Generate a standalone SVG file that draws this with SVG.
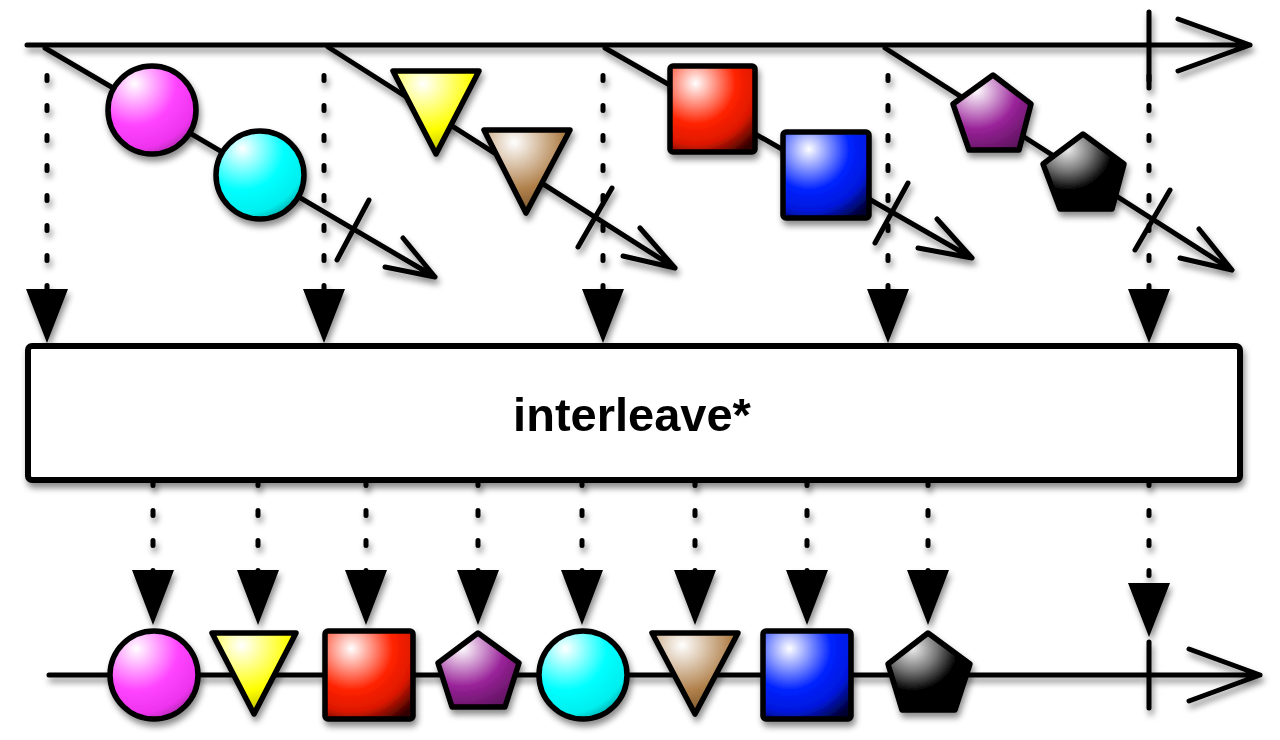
<svg xmlns="http://www.w3.org/2000/svg" width="1280" height="740" viewBox="0 0 1280 740">
<defs>
<filter id="sh" filterUnits="userSpaceOnUse" x="0" y="0" width="1280" height="740">
<feDropShadow dx="2" dy="5" stdDeviation="3" flood-color="#000" flood-opacity="0.45"/>
</filter>
<radialGradient id="gMag" cx="0.3" cy="0.2" r="0.95"><stop offset="0" stop-color="#ffffff"/><stop offset="0.5" stop-color="#ff44ff"/><stop offset="0.78" stop-color="#ee33ee"/><stop offset="1" stop-color="#882288"/></radialGradient>
<radialGradient id="gCyan" cx="0.3" cy="0.2" r="0.95"><stop offset="0" stop-color="#ffffff"/><stop offset="0.5" stop-color="#00ffff"/><stop offset="0.78" stop-color="#00eeee"/><stop offset="1" stop-color="#008080"/></radialGradient>
<radialGradient id="gYel" cx="0.35" cy="0.15" r="0.95"><stop offset="0" stop-color="#ffffff"/><stop offset="0.6" stop-color="#ffff00"/><stop offset="1" stop-color="#aaaa00"/></radialGradient>
<radialGradient id="gBrn" cx="0.35" cy="0.15" r="0.95"><stop offset="0" stop-color="#ffffff"/><stop offset="0.6" stop-color="#b0804a"/><stop offset="1" stop-color="#6a4a25"/></radialGradient>
<radialGradient id="gRed" cx="0.3" cy="0.2" r="0.95"><stop offset="0" stop-color="#ffffff"/><stop offset="0.5" stop-color="#ff2200"/><stop offset="0.75" stop-color="#dd1800"/><stop offset="1" stop-color="#330000"/></radialGradient>
<radialGradient id="gBlu" cx="0.3" cy="0.2" r="0.95"><stop offset="0" stop-color="#ffffff"/><stop offset="0.5" stop-color="#0022ff"/><stop offset="0.75" stop-color="#0018dd"/><stop offset="1" stop-color="#000033"/></radialGradient>
<radialGradient id="gPur" cx="0.3" cy="0.2" r="0.95"><stop offset="0" stop-color="#ffffff"/><stop offset="0.55" stop-color="#992299"/><stop offset="1" stop-color="#551155"/></radialGradient>
<radialGradient id="gBlk" cx="0.3" cy="0.2" r="0.85"><stop offset="0" stop-color="#eeeeee"/><stop offset="0.35" stop-color="#777777"/><stop offset="0.65" stop-color="#000000"/><stop offset="1" stop-color="#000000"/></radialGradient>
</defs>
<style>
.ln{fill:none;stroke:#000;stroke-width:5;stroke-linecap:round;stroke-linejoin:round}
.dot{fill:none;stroke:#000;stroke-width:5;stroke-linecap:round;stroke-dasharray:5 25}
.ah{fill:#000;stroke:none}
.sh{stroke:#000;stroke-width:5.5;stroke-linejoin:round}
.box{fill:#fff;stroke:#000;stroke-width:6}
.lbl{font-family:"Liberation Sans",Arial,sans-serif;font-weight:bold;font-size:47px;fill:#000}
</style>

<g id="connectors" filter="url(#sh)">
  <path class="ln" d="M27 45H1250M1178 19L1250 45L1178 71M1149 12V88"/>
  <path class="ln" d="M45 48L435 277M403 238L435 277L385 267M369 200L337 260"/>
  <path class="ln" d="M328 47L675 268M640 228L675 268L623 256M612 188L578 247"/>
  <path class="ln" d="M605 48L972 258M937 219L972 258L918 248M908 183L875 243"/>
  <path class="ln" d="M885 48L1232 270M1199 229L1232 270L1180 258M1170 190L1135 250"/>
  <path class="ln" d="M49 675H1260M1189 649L1260 675L1189 701M1149 642V708"/>
  <path class="dot" d="M47 75.5V292M324 75.5V292M603 75.5V292M888 75.5V292M1149 75.5V292"/>
  <path class="ah" d="M26 289H68L47 343ZM303 289H345L324 343ZM582 289H624L603 343ZM867 289H909L888 343ZM1128 289H1170L1149 343Z"/>
  <path class="dot" d="M153 480.5V572M258 480.5V572M366 480.5V572M478 480.5V572M582 480.5V572M695 480.5V572M807 480.5V572M928 480.5V572M1149 480.5V585"/>
  <path class="ah" d="M132 570H174L153 625ZM237 570H279L258 625ZM345 570H387L366 625ZM457 570H499L478 625ZM561 570H603L582 625ZM674 570H716L695 625ZM786 570H828L807 625ZM907 570H949L928 625ZM1128 583H1170L1149 637Z"/>
</g>

<g id="op-box" filter="url(#sh)">
  <rect class="box" x="28" y="346" width="1212" height="134" rx="4"/>
  <text class="lbl" x="632" y="431" text-anchor="middle">interleave*</text>
</g>

<g id="top-magenta" filter="url(#sh)"><circle class="sh" cx="152" cy="110" r="44" fill="url(#gMag)"/></g>
<g id="top-cyan" filter="url(#sh)"><circle class="sh" cx="260" cy="175" r="44" fill="url(#gCyan)"/></g>
<g id="top-yellow" filter="url(#sh)"><polygon class="sh" points="393,71 479,71 436,154" fill="url(#gYel)"/></g>
<g id="top-brown" filter="url(#sh)"><polygon class="sh" points="484,130 570,130 526,213" fill="url(#gBrn)"/></g>
<g id="top-red" filter="url(#sh)"><rect class="sh" x="670" y="66" width="85" height="86" rx="3" fill="url(#gRed)"/></g>
<g id="top-blue" filter="url(#sh)"><rect class="sh" x="783" y="132" width="86" height="86" rx="3" fill="url(#gBlu)"/></g>
<g id="top-purple" filter="url(#sh)"><polygon class="sh" points="993,75 1031,104 1019,150 969,150 953,104" fill="url(#gPur)"/></g>
<g id="top-black" filter="url(#sh)"><polygon class="sh" points="1083,134 1124,164 1112,209 1060,209 1043,164" fill="url(#gBlk)"/></g>

<g id="out-magenta" filter="url(#sh)"><circle class="sh" cx="154" cy="675" r="44" fill="url(#gMag)"/></g>
<g id="out-yellow" filter="url(#sh)"><polygon class="sh" points="212,633 296,633 254,714" fill="url(#gYel)"/></g>
<g id="out-red" filter="url(#sh)"><rect class="sh" x="325" y="631" width="88" height="88" rx="3" fill="url(#gRed)"/></g>
<g id="out-purple" filter="url(#sh)"><polygon class="sh" points="478,633 519,663 505,707 452,707 438,663" fill="url(#gPur)"/></g>
<g id="out-cyan" filter="url(#sh)"><circle class="sh" cx="583" cy="675" r="44" fill="url(#gCyan)"/></g>
<g id="out-brown" filter="url(#sh)"><polygon class="sh" points="652,633 738,633 695,714" fill="url(#gBrn)"/></g>
<g id="out-blue" filter="url(#sh)"><rect class="sh" x="763" y="631" width="88" height="88" rx="3" fill="url(#gBlu)"/></g>
<g id="out-black" filter="url(#sh)"><polygon class="sh" points="928,633 970,664 955,710 902,710 888,664" fill="url(#gBlk)"/></g>
</svg>
